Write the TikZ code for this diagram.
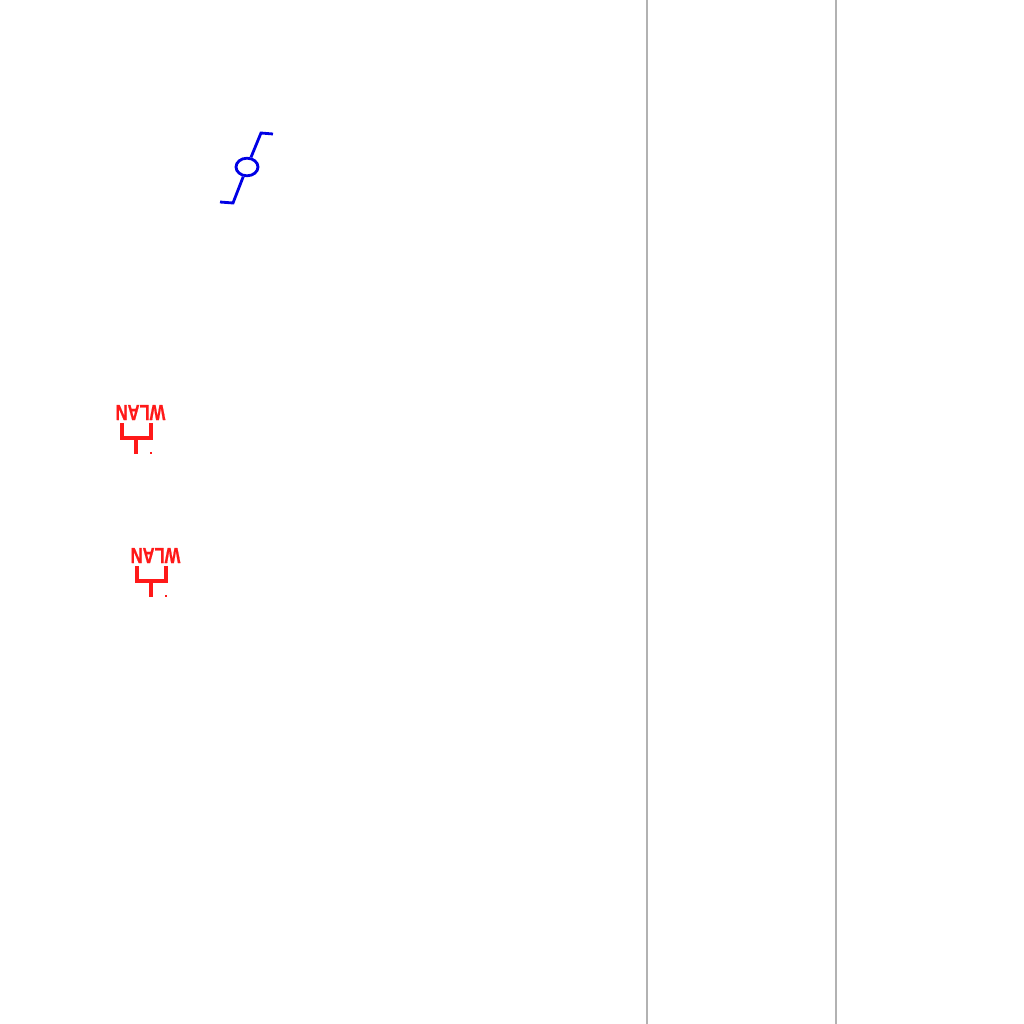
\documentclass[tikz,border=0pt]{standalone}
\usepackage{fontspec}
\setmainfont{Liberation Sans}
\newfontfamily\wlanfont[FakeBold=0.8]{Liberation Sans Bold}
\usetikzlibrary{shapes.geometric}
\tikzstyle{rail} = [draw=gray!60, line width=1.5pt]
\tikzstyle{blueLine} = [draw=blue!90!black, line width=2pt]
\tikzstyle{redLine} = [draw=red!90!white, line width=2.25pt]
\tikzstyle{switchNode} = [ellipse, draw=blue!90!black, line width=2pt, inner sep=0pt]
\tikzstyle{wlanLabel} = [text=red!90!white, font=\wlanfont\fontsize{15.5}{15.5}\selectfont, rotate=180, xscale=.76, inner sep=0pt]

\begin{document}
\begin{tikzpicture}[x=0.025cm,y=-0.025cm]
\useasboundingbox (0,0) rectangle (1024,1024);

% vertical rails
\coordinate (railOneTop) at (647,0);
\coordinate (railOneBottom) at (647,1024);
\coordinate (railTwoTop) at (836,0);
\coordinate (railTwoBottom) at (836,1024);
\draw [rail] (railOneTop) -- (railOneBottom);
\draw [rail] (railTwoTop) -- (railTwoBottom);

% blue switch
\node (switch) [switchNode, minimum width=0.55cm, minimum height=0.44cm] at (247,167) {};
\coordinate (upperBend) at (261,133);
\coordinate (upperEnd) at (273,134);
\coordinate (lowerBend) at (233,203);
\coordinate (lowerEnd) at (220,202);
\draw [blueLine] (switch) -- (upperBend) -- (upperEnd);
\draw [blueLine] (switch) -- (lowerBend) -- (lowerEnd);

% WLAN forks
\foreach \name/\dx/\dy in {wlanA/0/0, wlanB/15/143} {
  \node (\name) [wlanLabel] at (140.5+\dx,412.5+\dy) {WLAN};
  \coordinate (\name Left) at (122+\dx,423+\dy);
  \coordinate (\name LeftBend) at (122+\dx,438+\dy);
  \coordinate (\name Right) at (151+\dx,423+\dy);
  \coordinate (\name RightBend) at (151+\dx,438+\dy);
  \coordinate (\name Mid) at (136+\dx,438+\dy);
  \coordinate (\name Foot) at (136+\dx,454+\dy);
  \coordinate (\name DotA) at (150+\dx,453+\dy);
  \coordinate (\name DotB) at (152+\dx,453+\dy);
  \draw [redLine] (\name Left) -- (\name LeftBend) -- (\name RightBend) -- (\name Right);
  \draw [redLine] (\name Mid) -- (\name Foot);
  \draw [draw=red!90!white, line width=0.8pt] (\name DotA) -- (\name DotB);
}
\end{tikzpicture}
\end{document}
